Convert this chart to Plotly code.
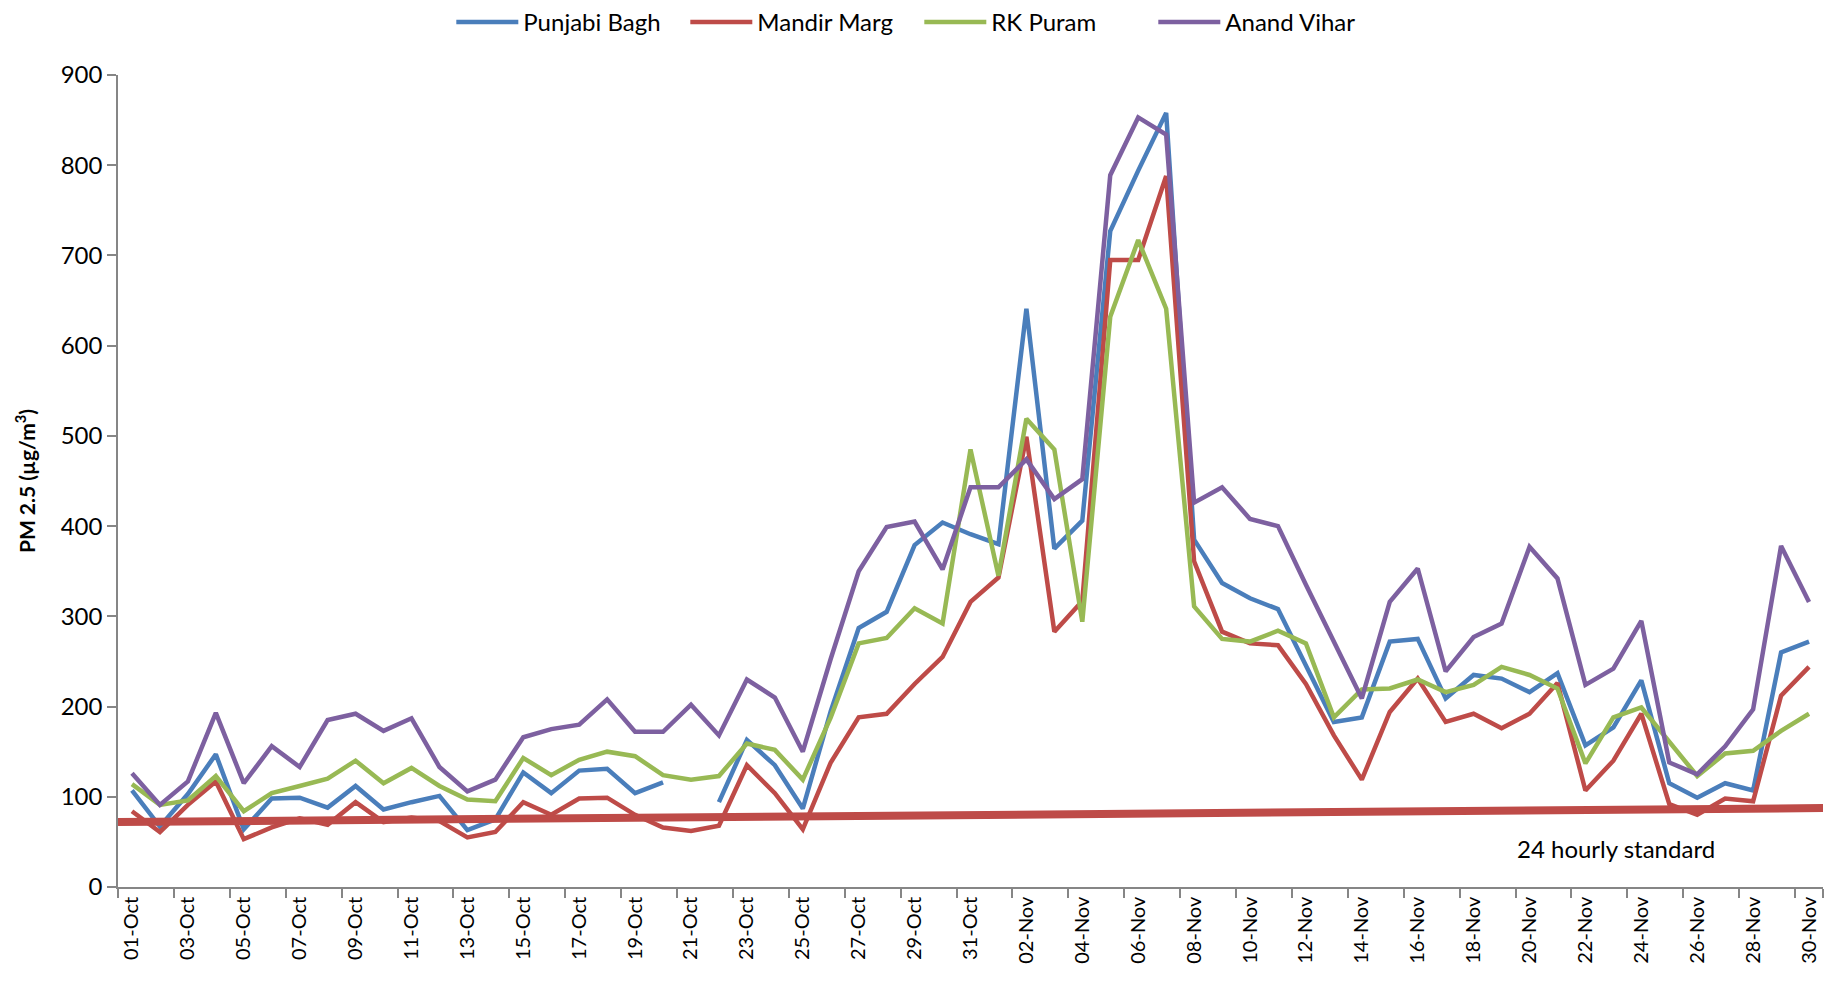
import plotly.graph_objects as go

# ---- data ----
oct_days = [f"{d:02d}-Oct" for d in range(1, 32)]
nov_days = [f"{d:02d}-Nov" for d in range(1, 31)]
dates = oct_days + nov_days

punjabi_bagh = [107, 67, 103, 147, 64, 98, 99, 88, 112, 86, 94, 101, 63, 75, 127, 104, 129, 131, 104, 116,
                None, 94, 163, 135, 87, 195, 287, 305, 379, 404, 391,
                380, 641, 375, 406, 727, 794, 858, 385, 337, 320, 308, 246, 183, 188, 272, 275, 209, 235, 231,
                216, 237, 157, 177, 229, 115, 99, 115, 107, 260, 272]
mandir_marg = [84, 61, 91, 117, 53, 66, 76, 69, 94, 72, 77, 73, 55, 61, 94, 80, 98, 99, 80, 66,
               62, 68, 135, 104, 64, 138, 188, 192, 225, 255, 316,
               343, 499, 283, 317, 695, 695, 788, 361, 283, 270, 268, 225, 168, 119, 194, 231, 183, 192, 176,
               192, 226, 107, 140, 192, 92, 80, 98, 95, 212, 244]
rk_puram = [114, 91, 96, 123, 84, 104, 112, 120, 140, 115, 132, 112, 97, 95, 143, 124, 141, 150, 145, 124,
            119, 123, 159, 152, 119, 188, 270, 276, 309, 292, 485,
            345, 519, 485, 294, 632, 717, 641, 311, 275, 272, 284, 270, 188, 219, 220, 230, 216, 224, 244,
            235, 220, 137, 188, 199, 160, 123, 148, 151, 173, 192]
anand_vihar = [126, 91, 117, 193, 115, 156, 133, 185, 192, 173, 187, 133, 106, 119, 166, 175, 180, 208, 172, 172,
               202, 168, 230, 210, 150, 253, 350, 399, 405, 352, 443,
               443, 474, 430, 452, 789, 853, 834, 426, 443, 408, 400, 335, 272, 209, 316, 353, 239, 277, 292,
               377, 342, 224, 242, 295, 138, 125, 156, 197, 378, 316]
standard_ends = [72, 87.5]   # 24 hourly standard line, start and end values
standard_label = "24 hourly standard"

series_names = ["Punjabi Bagh", "Mandir Marg", "RK Puram", "Anand Vihar"]
series_values = [punjabi_bagh, mandir_marg, rk_puram, anand_vihar]
colors = ["#4A7EBB", "#BE4B48", "#98B954", "#7D60A0"]

y_ticks = list(range(0, 901, 100))

# ---- figure ----
FONT = "Lato, 'Open Sans', sans-serif"
idx = list(range(len(dates)))

fig = go.Figure()
for name, vals, col in zip(series_names, series_values, colors):
    fig.add_trace(go.Scatter(x=idx, y=vals, mode="lines", name=name,
                             line=dict(color=col, width=4.5), connectgaps=False))

n = len(dates)
fig.add_trace(go.Scatter(x=[-0.5, n - 0.5], y=standard_ends, mode="lines",
                         line=dict(color="#BE4B48", width=8), showlegend=False,
                         hoverinfo="skip"))

fig.add_annotation(x=n - 7.9, y=43, xref="x", yref="y", text=standard_label,
                   showarrow=False, font=dict(family=FONT, size=24, color="#000000"))

fig.add_annotation(x=-0.0545, y=0.5, xref="paper", yref="paper",
                   text="<b>PM 2.5 (µg/m<sup>3</sup>)</b>", textangle=-90,
                   showarrow=False, font=dict(family=FONT, size=21, color="#000000"),
                   xanchor="center", yanchor="middle")

fig.update_layout(
    width=1846, height=1001,
    margin=dict(l=118, r=23, t=75, b=114),
    paper_bgcolor="white", plot_bgcolor="white",
    font=dict(family=FONT, color="#000000"),
    showlegend=True,
    legend=dict(orientation="h", x=0.498, xanchor="center", xref="container",
                y=1.0, yanchor="top", yref="container",
                font=dict(family=FONT, size=24, color="#000000"),
                itemwidth=62, entrywidth=157, entrywidthmode="pixels",
                tracegroupgap=0, bgcolor="rgba(0,0,0,0)"),
    xaxis=dict(
        range=[-0.5, n - 0.5], showgrid=False, zeroline=False,
        tickmode="array", tickvals=idx[::2], ticktext=dates[::2],
        tickangle=-90, ticks="", tickfont=dict(family=FONT, size=20, color="#000000"),
        showline=True, linecolor="#868686", linewidth=1.5,
        minor=dict(tickmode="array", tickvals=[i - 0.5 for i in idx[::2]] + [n - 0.5],
                   ticks="outside", ticklen=9, tickcolor="#868686", tickwidth=1.5, showgrid=False),
    ),
    yaxis=dict(
        range=[0, 900], tickmode="array", tickvals=y_ticks, showgrid=False, zeroline=False,
        ticks="outside", ticklen=9, tickcolor="#868686", tickwidth=1.5,
        showline=True, linecolor="#868686", linewidth=1.5,
        tickfont=dict(family=FONT, size=24, color="#000000"),
    ),
)

fig.write_html("out.html", config={"displayModeBar": False},
               post_script="document.body.style.margin='0';")
